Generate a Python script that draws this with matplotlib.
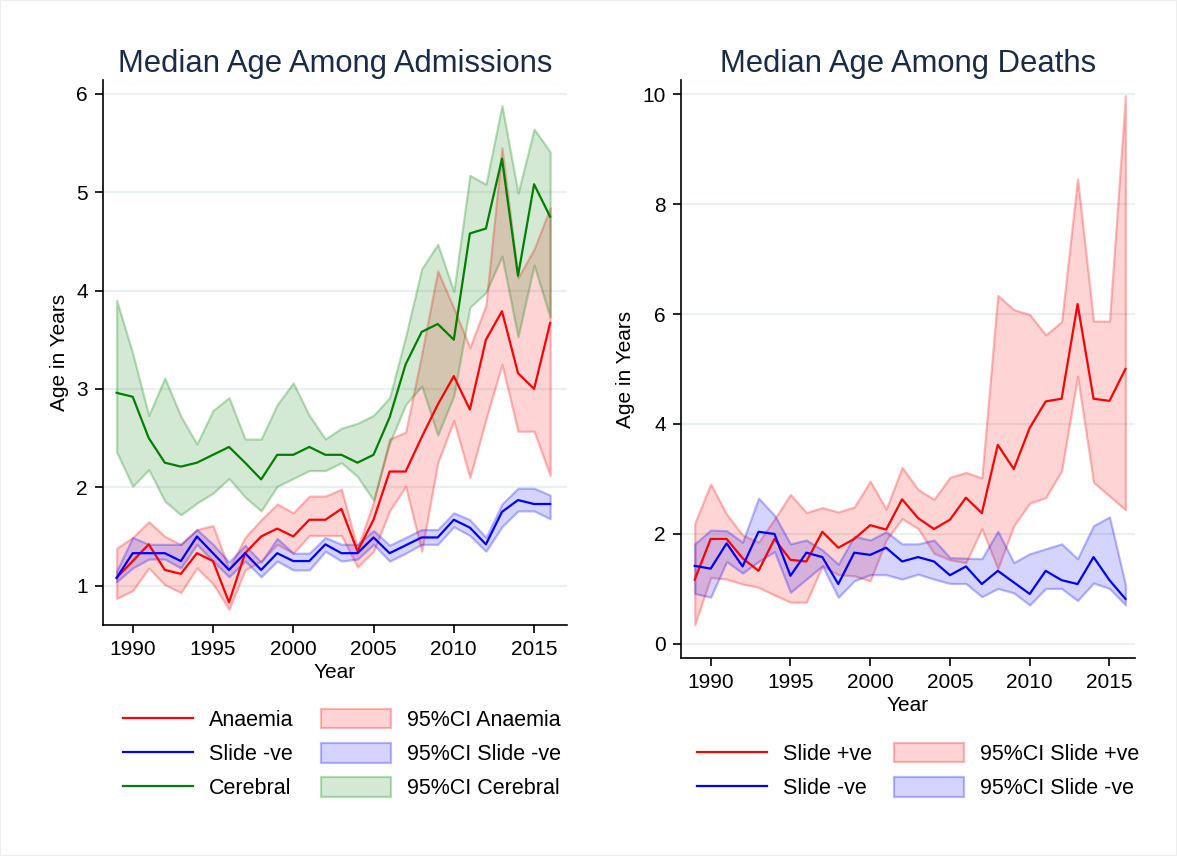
import numpy as np
import matplotlib
matplotlib.use("Agg")
import matplotlib.pyplot as plt
from matplotlib.lines import Line2D
from matplotlib.patches import Patch, Rectangle

plt.rcParams['font.family'] = ['Liberation Sans', 'DejaVu Sans']

years = list(range(1989, 2017))

# ---- Left panel: Median age among admissions ----
anaemia = [1.08, 1.25, 1.42, 1.16, 1.12, 1.33, 1.25, 0.83, 1.33, 1.50, 1.58, 1.50, 1.67, 1.67,
           1.78, 1.35, 1.67, 2.16, 2.16, 2.51, 2.84, 3.13, 2.79, 3.50, 3.79, 3.16, 3.00, 3.67]
anaemia_hi = [1.38, 1.49, 1.65, 1.50, 1.42, 1.57, 1.61, 1.17, 1.49, 1.67, 1.83, 1.74, 1.91, 1.91,
              1.98, 1.38, 1.85, 2.49, 2.56, 3.35, 4.20, 3.82, 3.42, 3.85, 5.45, 4.13, 4.42, 4.84]
anaemia_lo = [0.87, 0.95, 1.18, 1.01, 0.93, 1.18, 1.02, 0.76, 1.16, 1.25, 1.42, 1.33, 1.51, 1.51,
              1.51, 1.19, 1.35, 1.76, 2.01, 1.35, 2.25, 2.68, 2.10, 2.69, 3.25, 2.57, 2.57, 2.12]

slide_neg_adm = [1.08, 1.33, 1.33, 1.33, 1.25, 1.50, 1.33, 1.16, 1.33, 1.16, 1.33, 1.25, 1.25, 1.42,
                 1.33, 1.33, 1.49, 1.33, 1.41, 1.49, 1.49, 1.67, 1.59, 1.42, 1.75, 1.87, 1.83, 1.83]
slide_neg_adm_hi = [1.15, 1.49, 1.42, 1.42, 1.42, 1.57, 1.42, 1.24, 1.41, 1.24, 1.48, 1.33, 1.33, 1.49,
                    1.42, 1.42, 1.56, 1.41, 1.49, 1.57, 1.57, 1.74, 1.67, 1.49, 1.83, 1.99, 1.99, 1.92]
slide_neg_adm_lo = [1.04, 1.18, 1.27, 1.27, 1.18, 1.42, 1.25, 1.09, 1.25, 1.09, 1.25, 1.16, 1.16, 1.35,
                    1.25, 1.27, 1.42, 1.25, 1.33, 1.42, 1.42, 1.60, 1.51, 1.35, 1.60, 1.76, 1.76, 1.68]

cerebral = [2.96, 2.92, 2.50, 2.25, 2.21, 2.25, 2.33, 2.41, 2.25, 2.08, 2.33, 2.33, 2.41, 2.33,
            2.33, 2.25, 2.33, 2.71, 3.25, 3.58, 3.66, 3.50, 4.58, 4.63, 5.34, 4.15, 5.08, 4.75]
cerebral_hi = [3.90, 3.36, 2.73, 3.11, 2.72, 2.44, 2.78, 2.91, 2.49, 2.49, 2.84, 3.06, 2.73, 2.49,
               2.60, 2.65, 2.73, 2.91, 3.53, 4.22, 4.47, 3.99, 5.17, 5.08, 5.88, 4.99, 5.64, 5.41]
cerebral_lo = [2.36, 2.01, 2.18, 1.86, 1.72, 1.84, 1.94, 2.09, 1.90, 1.76, 2.01, 2.09, 2.17, 2.17,
               2.25, 2.11, 1.87, 2.45, 2.84, 3.03, 2.53, 2.93, 3.83, 3.98, 4.35, 3.53, 4.26, 3.73]

# ---- Right panel: Median age among deaths ----
slide_pos = [1.17, 1.91, 1.91, 1.56, 1.33, 1.91, 1.53, 1.50, 2.04, 1.75, 1.91, 2.16, 2.08, 2.63,
             2.29, 2.09, 2.26, 2.66, 2.38, 3.62, 3.18, 3.93, 4.41, 4.46, 6.18, 4.46, 4.42, 5.00]
slide_pos_hi = [2.19, 2.91, 2.36, 1.98, 1.85, 2.27, 2.72, 2.39, 2.48, 2.40, 2.49, 2.96, 2.45, 3.21,
                2.81, 2.63, 3.03, 3.12, 3.02, 6.34, 6.08, 5.99, 5.62, 5.86, 8.46, 5.87, 5.87, 9.97]
slide_pos_lo = [0.35, 1.21, 1.18, 1.09, 1.03, 0.89, 0.76, 0.76, 1.42, 1.26, 1.24, 1.15, 1.89, 2.28,
                2.10, 1.65, 1.53, 1.48, 2.10, 1.37, 2.15, 2.56, 2.66, 3.15, 4.87, 2.94, 2.69, 2.44]

slide_neg_d = [1.42, 1.37, 1.83, 1.41, 2.04, 2.00, 1.24, 1.66, 1.58, 1.09, 1.66, 1.62, 1.75, 1.50,
               1.58, 1.50, 1.25, 1.41, 1.09, 1.33, 1.12, 0.91, 1.33, 1.16, 1.09, 1.58, 1.16, 0.82]
slide_neg_d_hi = [1.82, 2.07, 2.06, 1.85, 2.65, 2.34, 1.82, 1.89, 1.71, 1.45, 1.96, 1.89, 2.04, 1.82,
                  1.82, 1.89, 1.57, 1.56, 1.55, 2.05, 1.48, 1.64, 1.73, 1.82, 1.55, 2.15, 2.31, 1.08]
slide_neg_d_lo = [0.92, 0.85, 1.50, 1.29, 1.50, 1.68, 0.94, 1.18, 1.42, 0.85, 1.15, 1.26, 1.26, 1.18,
                  1.27, 1.18, 1.10, 1.10, 0.86, 1.01, 0.93, 0.71, 1.01, 1.01, 0.79, 1.11, 1.01, 0.71]

x_ticks = [1990, 1995, 2000, 2005, 2010, 2015]
left_yticks = [1, 2, 3, 4, 5, 6]
right_yticks = [0, 2, 4, 6, 8, 10]

RED = (1.0, 0.0, 0.0)
BLUE = (0.0, 0.0, 1.0)
GREEN = (0.0, 0.5, 0.0)
TITLE_C = '#1a2b49'
GRID_C = '#eaf1f3'

W, H = 1177, 856
fig = plt.figure(figsize=(W / 100, H / 100), dpi=100)
fig.patch.set_facecolor('white')


def px_axes(l, t, r, b):
    return fig.add_axes([l / W, 1 - b / H, (r - l) / W, (b - t) / H])


def style(ax, yticks, ylim, xlim):
    ax.set_xlim(*xlim)
    ax.set_ylim(*ylim)
    ax.set_xticks(x_ticks)
    ax.set_yticks(yticks)
    for s in ['top', 'right']:
        ax.spines[s].set_visible(False)
    for s in ['left', 'bottom']:
        ax.spines[s].set_linewidth(1.2)
        ax.spines[s].set_color('black')
    ax.tick_params(axis='both', direction='out', length=6, width=1.2, labelsize=15, pad=5)
    ax.yaxis.grid(True, color=GRID_C, linewidth=1.6)
    ax.set_axisbelow(True)


def band(ax, lo, hi, color):
    fc = color + (0.17,)
    ec = color + (0.27,)
    ax.fill_between(years, lo, hi, facecolor=fc, edgecolor=ec, linewidth=1.6)


LEG_KW = dict(frameon=False, fontsize=15.5, loc='upper center', handlelength=3.25,
              handleheight=1.0, handletextpad=0.75, labelspacing=0.56, borderpad=0.3)

# Left axes
axL = px_axes(103, 80, 567, 625)
band(axL, anaemia_lo, anaemia_hi, RED)
band(axL, slide_neg_adm_lo, slide_neg_adm_hi, BLUE)
band(axL, cerebral_lo, cerebral_hi, GREEN)
axL.plot(years, anaemia, color=RED, lw=1.6)
axL.plot(years, slide_neg_adm, color=BLUE, lw=1.6)
axL.plot(years, cerebral, color=GREEN, lw=1.6)
style(axL, left_yticks, (0.60, 6.14), (1988.15, 2017.05))
axL.set_ylabel('Age in Years', fontsize=15, labelpad=5)
axL.set_xlabel('Year', fontsize=15, labelpad=3)
axL.set_title('Median Age Among Admissions', fontsize=22.3, color=TITLE_C, pad=6)

hL = [Line2D([], [], color=RED, lw=1.6), Line2D([], [], color=BLUE, lw=1.6),
      Line2D([], [], color=GREEN, lw=1.6),
      Patch(facecolor=RED + (0.17,), edgecolor=RED + (0.27,), lw=1.6),
      Patch(facecolor=BLUE + (0.17,), edgecolor=BLUE + (0.27,), lw=1.6),
      Patch(facecolor=GREEN + (0.17,), edgecolor=GREEN + (0.27,), lw=1.6)]
labL = ['Anaemia', 'Slide -ve', 'Cerebral', '95%CI Anaemia', '95%CI Slide -ve', '95%CI Cerebral']
fig.legend(hL, labL, ncol=2, bbox_to_anchor=(342 / W, 1 - 692 / H), columnspacing=1.3, **LEG_KW)

# Right axes
axR = px_axes(681, 80, 1135, 658)
band(axR, slide_pos_lo, slide_pos_hi, RED)
band(axR, slide_neg_d_lo, slide_neg_d_hi, BLUE)
axR.plot(years, slide_pos, color=RED, lw=1.6)
axR.plot(years, slide_neg_d, color=BLUE, lw=1.6)
style(axR, right_yticks, (-0.255, 10.255), (1988.14, 2016.6))
axR.set_ylabel('Age in Years', fontsize=15, labelpad=5)
axR.set_xlabel('Year', fontsize=15, labelpad=3)
axR.set_title('Median Age Among Deaths', fontsize=22.3, color=TITLE_C, pad=6)

hR = [Line2D([], [], color=RED, lw=1.6), Line2D([], [], color=BLUE, lw=1.6),
      Patch(facecolor=RED + (0.17,), edgecolor=RED + (0.27,), lw=1.6),
      Patch(facecolor=BLUE + (0.17,), edgecolor=BLUE + (0.27,), lw=1.6)]
labR = ['Slide +ve', 'Slide -ve', '95%CI Slide +ve', '95%CI Slide -ve']
fig.legend(hR, labR, ncol=2, bbox_to_anchor=(918 / W, 1 - 726 / H), columnspacing=1.0, **LEG_KW)

# faint outer frame
fig.add_artist(Rectangle((0, 0), 1, 1, transform=fig.transFigure, fill=False,
                         edgecolor='#eeeeee', linewidth=1.5))

fig.savefig('out.png', dpi=100, facecolor='white')
